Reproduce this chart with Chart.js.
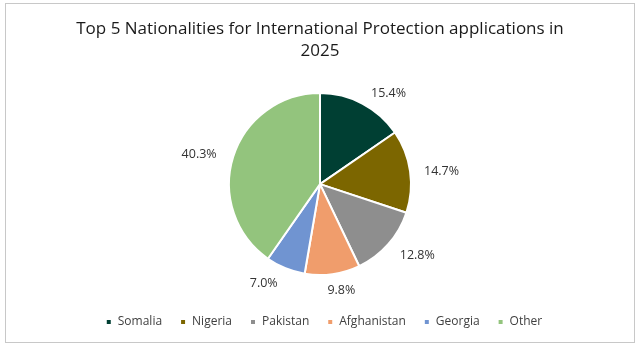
<!DOCTYPE html>
<html>
<head>
<meta charset="utf-8">
<script src="https://cdn.jsdelivr.net/npm/chart.js@4.4.1/dist/chart.umd.min.js"></script>
<style>
    html, body { margin: 0; padding: 0; background: #fff; }
    #wrap { position: relative; width: 640px; height: 349px; }
    #frame { position: absolute; left: 5px; top: 3px; width: 628px; height: 338px; border: 1px solid #c8c8c8; pointer-events: none; }
</style>
</head>
<body>
<div id="wrap">
    <canvas id="natChart" width="640" height="349"></canvas>
    <div id="frame"></div>
</div>
<script>
// Chart data
const nationalities = ['Somalia', 'Nigeria', 'Pakistan', 'Afghanistan', 'Georgia', 'Other'];
const shares = [15.4, 14.7, 12.8, 9.8, 7.0, 40.3];
const sliceColors = ['#003f33', '#7c6600', '#8e8e8e', '#f09d6c', '#7094d1', '#93c47d'];

// percentage labels just outside each slice (box pushed sideways like Excel's "outside end")
const outsideLabels = {
    id: 'outsideLabels',
    afterDatasetsDraw(chart) {
        const ctx = chart.ctx;
        const meta = chart.getDatasetMeta(0);
        ctx.save();
        ctx.font = '12.5px "Open Sans"';
        ctx.fillStyle = '#333333';
        ctx.textAlign = 'center';
        ctx.textBaseline = 'middle';
        meta.data.forEach((arc, i) => {
            const p = arc.getProps(['x', 'y', 'startAngle', 'endAngle', 'outerRadius'], true);
            const mid = (p.startAngle + p.endAngle) / 2;
            const dx = Math.cos(mid);
            const dy = Math.sin(mid);
            const text = shares[i].toFixed(1) + '%';
            const w = ctx.measureText(text).width;
            const dist = p.outerRadius + 10;
            const side = Math.max(-1, Math.min(1, dx * 3));
            ctx.fillText(text, p.x + dx * dist + (w / 2 + 4) * side - (dx < -0.9 ? 3 : 0), p.y + dy * dist + dy * 4 + 2);
        });
        ctx.restore();
    }
};

// nudge legend a little to the right
const legendNudge = {
    id: 'legendNudge',
    afterLayout(chart) {
        chart.legend.left += 4;
        chart.legend.right += 4;
    }
};

new Chart(document.getElementById('natChart'), {
    type: 'pie',
    data: {
        labels: nationalities,
        datasets: [{
            data: shares,
            backgroundColor: sliceColors,
            borderColor: '#ffffff',
            borderWidth: 2,
            hoverOffset: 0,
            radius: 91
        }]
    },
    options: {
        responsive: false,
        animation: false,
        layout: { padding: { top: 0, bottom: 11, left: 10, right: 10 } },
        plugins: {
            title: {
                display: true,
                text: ['Top 5 Nationalities for International Protection applications in', '2025'],
                color: '#1a1a1a',
                font: { family: '"Open Sans"', size: 17, weight: 'normal', lineHeight: 1.3 },
                padding: { top: 18, bottom: 8 }
            },
            legend: {
                position: 'bottom',
                labels: {
                    boxWidth: 6,
                    boxHeight: 6,
                    padding: 18,
                    color: '#404040',
                    font: { family: '"Open Sans"', size: 12 }
                }
            },
            tooltip: { enabled: false }
        }
    },
    plugins: [outsideLabels, legendNudge]
});
</script>
</body>
</html>
